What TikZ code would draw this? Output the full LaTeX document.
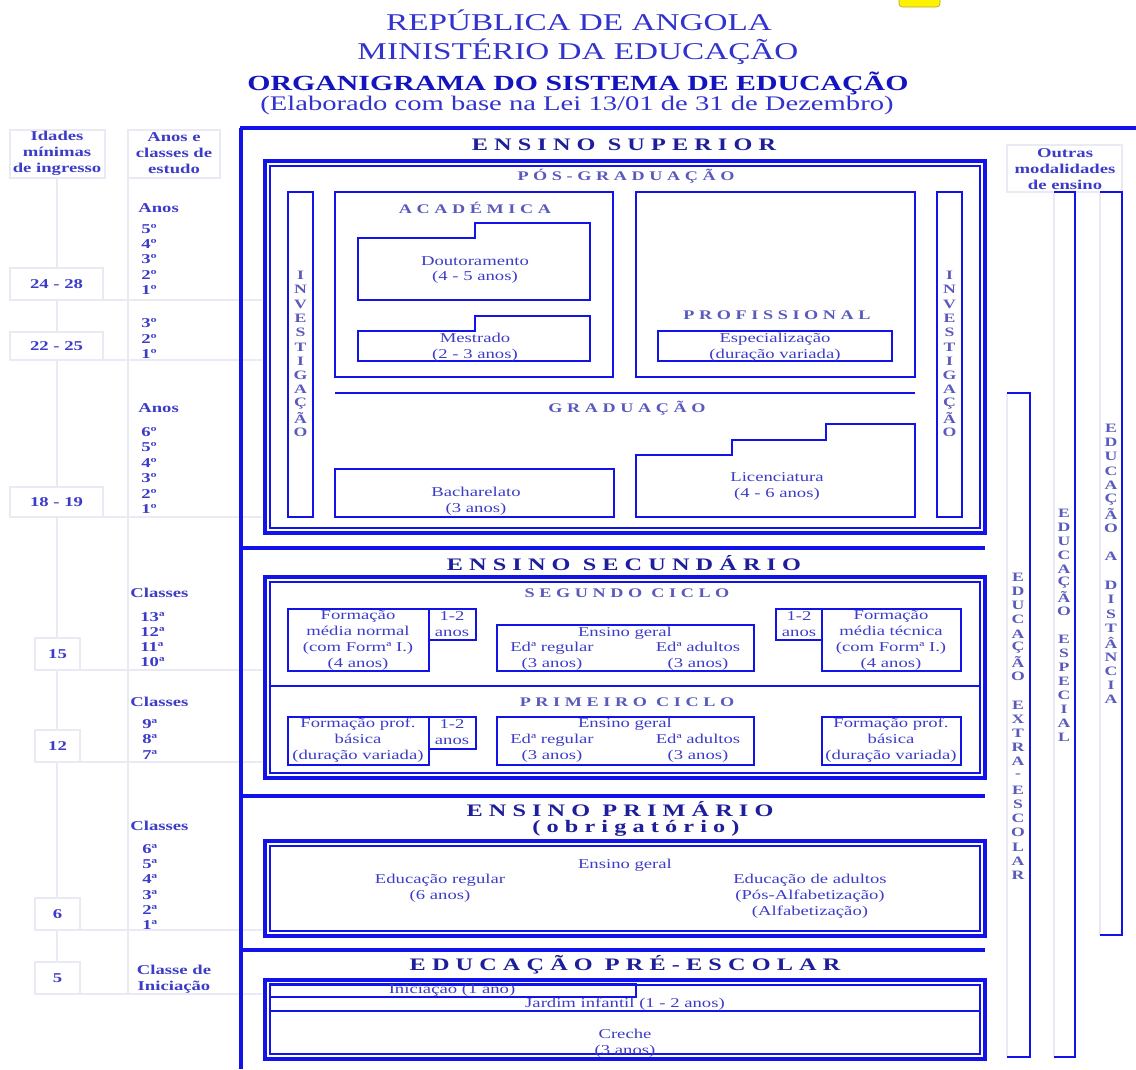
\documentclass[tikz,border=0pt]{standalone}
\usepackage{fontspec}
\setmainfont{Liberation Serif}[FakeStretch=1.38]
\newfontfamily\spacedfont{Liberation Serif}[FakeStretch=1.38,LetterSpace=35]
\definecolor{lineblue}{RGB}{18,18,235}
\definecolor{txtblue}{RGB}{60,60,200}
\definecolor{hdblue}{RGB}{50,50,205}
\definecolor{orgblue}{RGB}{20,20,190}
\definecolor{titleblue}{RGB}{30,30,155}
\definecolor{subblue}{RGB}{90,90,188}
\definecolor{greyline}{RGB}{234,234,244}
\begin{document}
\begin{tikzpicture}[x=0.02cm, y=-0.02cm,
  txt/.style={text=txtblue, inner sep=0pt, align=center, font=\fontsize{7.7}{9.07}\selectfont},
  lbl/.style={txt, font=\fontsize{7.7}{9.07}\selectfont\bfseries},
  ord/.style={lbl, anchor=west},
  ttl/.style={text=titleblue, inner sep=0pt, font=\spacedfont\fontsize{10}{11}\selectfont\bfseries},
  subttl/.style={text=subblue, inner sep=0pt, font=\spacedfont\fontsize{7.5}{9}\selectfont\bfseries},
  vlet/.style={text=subblue, inner sep=0pt, font=\fontsize{7.3}{8}\selectfont\bfseries},
  hd/.style={text=hdblue, inner sep=0pt, font=\fontsize{13.7}{16}\selectfont},
  boxline/.style={draw=lineblue, line width=1.1pt},
  heavy/.style={draw=lineblue, line width=2.4pt},
  hair/.style={draw=lineblue, line width=0.8pt},
  pale/.style={draw=greyline, line width=0.7pt}]
\useasboundingbox (0,0) rectangle (1136,1069);

% header
\draw[draw=olive!70, fill=yellow, rounded corners=2pt] (899,-4) rectangle (940,7);
\node[hd] (rep) at (579,20) {REPÚBLICA DE ANGOLA};
\node[hd] (min) at (578,52) {MINISTÉRIO DA EDUCAÇÃO};
\node[hd, text=orgblue, font=\fontsize{12.3}{14}\selectfont\bfseries] (org) at (578,83) {ORGANIGRAMA DO SISTEMA DE EDUCAÇÃO};
\node[hd, font=\fontsize{11.8}{14}\selectfont] (lei) at (577,106) {(Elaborado com base na Lei 13/01 de 31 de Dezembro)};

% left columns
\draw[pale] (57,178) -- (57,962);
\draw[pale] (128,178) -- (128,994);
\foreach \y/\x in {300/10,360/10,517/10,670/35,762/35,930/35,994/35}
  \draw[pale] (\x,\y) -- (262,\y);
\draw[pale, fill=white] (10,130) rectangle (105,178);
\draw[pale, fill=white] (128,130) rectangle (220,178);
\node[lbl] (idades) at (57,153) {Idades\\mínimas\\de ingresso};
\node[lbl] (anosclasses) at (174,153) {Anos e\\classes de\\estudo};
\foreach \t/\b/\l/\r/\a [count=\i] in {268/300/10/103/24 - 28, 332/360/10/103/22 - 25, 487/517/10/103/18 - 19,
    638/670/35/80/15, 730/762/35/80/12, 898/930/35/80/6, 962/994/35/80/5}{
  \draw[pale, fill=white] (\l,\t) rectangle (\r,\b);
  \node[lbl] (age\i) at ({(\l+\r)/2},{(\t+\b)/2}) {\a};
}
\node[ord] (anos1) at (138,208) {Anos};
\node[ord] (anos2) at (138,408) {Anos};
\node[ord] (cl1) at (130,593) {Classes};
\node[ord] (cl2) at (130,702) {Classes};
\node[ord] (cl3) at (130,826) {Classes};
\node[lbl] (clini) at (174,979) {Classe de\\Iniciação};
\foreach \n [count=\i] in {5,4,3,2,1}
  \node[ord] (dout\i) at (141,{229+15.2*(\i-1)}) {\n{}º};
\foreach \n [count=\i] in {3,2,1}
  \node[ord] (mest\i) at (141,{323+15.5*(\i-1)}) {\n{}º};
\foreach \n [count=\i] in {6,5,4,3,2,1}
  \node[ord] (grad\i) at (141,{432+15.4*(\i-1)}) {\n{}º};
\foreach \n [count=\i] in {13,12,11,10}
  \node[ord] (seg\i) at (140,{617+15*(\i-1)}) {\n{}ª};
\foreach \n [count=\i] in {9,8,7}
  \node[ord] (prim\i) at (142,{724+15.5*(\i-1)}) {\n{}ª};
\foreach \n [count=\i] in {6,5,4,3,2,1}
  \node[ord] (ep\i) at (142,{849+15.2*(\i-1)}) {\n{}ª};

% main frame
\draw[heavy] (240,128) -- (1136,128);
\draw[heavy, line width=2.8pt] (241,128) -- (241,1069);
\foreach \y in {548,796,950}
  \draw[heavy] (241,\y) -- (985,\y);
\foreach \t/\b in {161/533, 577/778, 841/936, 980/1059}{
  \draw[heavy] (265,\t) rectangle (985,\b);
  \draw[hair] (270,\t+5) rectangle (980,\b-5);
}
\node[ttl] (sup) at (624,145) {ENSINO SUPERIOR};
\node[ttl] (sec) at (624,563) {ENSINO SECUNDÁRIO};
\node[ttl] (pri) at (620,809) {ENSINO PRIMÁRIO};
\node[ttl] (obr) at (636,828) {(obrigatório)};
\node[ttl] (pre) at (625,965) {EDUCAÇÃO PRÉ-ESCOLAR};

% ensino superior
\node[subttl] (posgrad) at (626,176) {PÓS-GRADUAÇÃO};
\draw[boxline] (288,192) rectangle (313,517);
\draw[boxline] (937,192) rectangle (962,517);
\foreach \c [count=\i] in {I,N,V,E,S,T,I,G,A,Ç,Ã,O}{
  \node[vlet] (invl\i) at (300.5,{261+14.3*\i}) {\c};
  \node[vlet] (invr\i) at (949.5,{261+14.3*\i}) {\c};
}
\draw[boxline] (335,192) rectangle (613,377);
\node[subttl] (acad) at (475,208) {ACADÉMICA};
\draw[boxline] (358,238) -- (475,238) -- (475,223) -- (590,223) -- (590,300) -- (358,300) -- cycle;
\node[txt] (dout) at (475,270) {Doutoramento\\(4 - 5 anos)};
\draw[boxline] (358,331) -- (475,331) -- (475,316) -- (590,316) -- (590,361) -- (358,361) -- cycle;
\node[txt] (mest) at (475,347) {Mestrado\\(2 - 3 anos)};
\draw[boxline] (636,192) rectangle (915,377);
\node[subttl] (prof) at (777,315) {PROFISSIONAL};
\draw[boxline] (658,331) rectangle (892,361);
\node[txt] (esp) at (775,347) {Especialização\\(duração variada)};
\draw[boxline] (335,393) -- (915,393);
\node[subttl] (grad) at (627,408) {GRADUAÇÃO};
\draw[boxline] (335,469) rectangle (614,517);
\node[txt] (bach) at (476,501) {Bacharelato\\(3 anos)};
\draw[boxline] (636,517) -- (636,455) -- (732,455) -- (732,440) -- (826,440) -- (826,424) -- (915,424) -- (915,517) -- cycle;
\node[txt] (lic) at (777,486) {Licenciatura\\(4 - 6 anos)};

% ensino secundario
\node[subttl] (segundo) at (627,593) {SEGUNDO CICLO};
\draw[boxline] (270,686) -- (980,686);
\node[subttl] (primeiro) at (627,702) {PRIMEIRO CICLO};
\draw[boxline] (288,609) rectangle (429,671);
\draw[boxline] (429,609) rectangle (476,640);
\node[txt] (fmn) at (358,640) {Formação\\média normal\\(com Formª I.)\\(4 anos)};
\node[txt] (fmnano) at (452,624) {1-2\\anos};
\draw[boxline] (497,625) rectangle (754,671);
\node[txt] (eg2) at (625,633) {Ensino geral};
\node[txt] (reg2) at (552,656) {Edª regular\\(3 anos)};
\node[txt] (adu2) at (698,656) {Edª adultos\\(3 anos)};
\draw[boxline] (776,609) rectangle (822,640);
\draw[boxline] (822,609) rectangle (961,671);
\node[txt] (fmtano) at (799,624) {1-2\\anos};
\node[txt] (fmt) at (891,640) {Formação\\média técnica\\(com Formª I.)\\(4 anos)};
\draw[boxline] (288,717) rectangle (429,765);
\draw[boxline] (429,717) rectangle (476,749);
\node[txt] (fpb) at (358,740) {Formação prof.\\básica\\(duração variada)};
\node[txt] (fpbano) at (452,732) {1-2\\anos};
\draw[boxline] (497,717) rectangle (754,765);
\node[txt] (eg1) at (625,724) {Ensino geral};
\node[txt] (reg1) at (552,748) {Edª regular\\(3 anos)};
\node[txt] (adu1) at (698,748) {Edª adultos\\(3 anos)};
\draw[boxline] (822,717) rectangle (961,765);
\node[txt] (fpb2) at (891,740) {Formação prof.\\básica\\(duração variada)};

% ensino primario
\node[txt] (egp) at (625,865) {Ensino geral};
\node[txt] (edreg) at (440,888) {Educação regular\\(6 anos)};
\node[txt] (edadu) at (810,896) {Educação de adultos\\(Pós-Alfabetização)\\(Alfabetização)};

% pre-escolar
\draw[boxline] (270,984) rectangle (636,997);
\draw[boxline] (270,1011) -- (980,1011);
\node[txt] (inic) at (452,990) {Iniciação (1 ano)};
\node[txt] (jard) at (625,1004) {Jardim infantil (1 - 2 anos)};
\node[txt] (cre) at (625,1043) {Creche\\(3 anos)};

% outras modalidades
\draw[pale] (1007,145) rectangle (1122,192);
\node[lbl] (outras) at (1065,169) {Outras\\modalidades\\de ensino};
\draw[pale] (1007,393) -- (1007,1057);
\draw[pale] (1054,192) -- (1054,1057);
\draw[pale] (1100,192) -- (1100,935);
\draw[boxline] (1007,393) -- (1030,393) -- (1030,1057) -- (1007,1057);
\draw[boxline] (1054,192) -- (1075,192) -- (1075,1057) -- (1054,1057);
\draw[boxline] (1100,192) -- (1122,192) -- (1122,935) -- (1100,935);
\foreach \c [count=\i] in {E,D,U,C,A,Ç,Ã,O,{},E,X,T,R,A,-,E,S,C,O,L,A,R}
  \node[vlet] (extra\i) at (1018,{562.8+14.2*\i}) {\c};
\foreach \c [count=\i] in {E,D,U,C,A,Ç,Ã,O,{},E,S,P,E,C,I,A,L}
  \node[vlet] (espec\i) at (1064,{499+14*\i}) {\c};
\foreach \c [count=\i] in {E,D,U,C,A,Ç,Ã,O,{},A,{},D,I,S,T,Â,N,C,I,A}
  \node[vlet] (dist\i) at (1111,{413.7+14.3*\i}) {\c};
\end{tikzpicture}
\end{document}
